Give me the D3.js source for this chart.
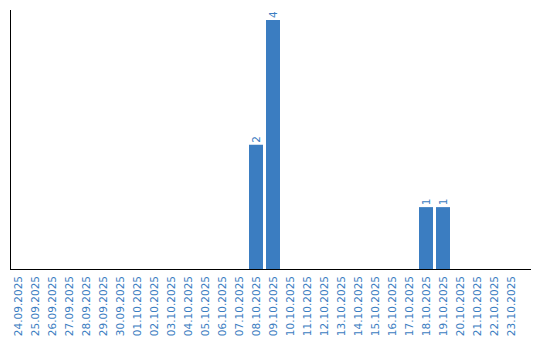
<!DOCTYPE html>
<html>
<head>
<meta charset="utf-8">
<script src="https://cdn.jsdelivr.net/npm/d3@7"></script>
<style>
  html, body { margin: 0; padding: 0; background: #fff; }
  svg { display: block; }
  text { font-family: "DejaVu Sans", Verdana, sans-serif; }
</style>
</head>
<body>
<svg id="chart" width="540" height="340"></svg>
<script>
const dates = ["24.09.2025","25.09.2025","26.09.2025","27.09.2025","28.09.2025","29.09.2025","30.09.2025",
  "01.10.2025","02.10.2025","03.10.2025","04.10.2025","05.10.2025","06.10.2025","07.10.2025","08.10.2025",
  "09.10.2025","10.10.2025","11.10.2025","12.10.2025","13.10.2025","14.10.2025","15.10.2025","16.10.2025",
  "17.10.2025","18.10.2025","19.10.2025","20.10.2025","21.10.2025","22.10.2025","23.10.2025"];
const counts = [0,0,0,0,0,0,0,0,0,0,0,0,0,0,2,4,0,0,0,0,0,0,0,0,1,1,0,0,0,0];

const color = "#3b7dc1";
const svg = d3.select("#chart");

const x = d3.scaleBand().domain(dates).range([9.5, 519.5])
  .paddingInner(3/17).paddingOuter(1.5/17);
const y = d3.scaleLinear().domain([0, 4]).range([269.5, 20]);

const data = dates.map((d, i) => ({ date: d, value: counts[i] }));

svg.append("g").selectAll("rect")
  .data(data.filter(d => d.value > 0))
  .join("rect")
  .attr("x", d => x(d.date))
  .attr("y", d => y(d.value))
  .attr("width", x.bandwidth())
  .attr("height", d => y(0) - y(d.value))
  .attr("fill", color);

svg.append("g").selectAll("text")
  .data(data.filter(d => d.value > 0))
  .join("text")
  .attr("transform", d => `translate(${x(d.date) + x.bandwidth()/2 + 3.5},${y(d.value) - 2}) rotate(-90)`)
  .attr("fill", color)
  .attr("font-size", "10.5px")
  .text(d => d.value);

// axes lines
svg.append("line").attr("x1", 10.5).attr("x2", 10.5).attr("y1", 10).attr("y2", 270)
  .attr("stroke", "#000").attr("stroke-width", 1);
svg.append("line").attr("x1", 10).attr("x2", 531).attr("y1", 269.5).attr("y2", 269.5)
  .attr("stroke", "#000").attr("stroke-width", 1);

// x labels
svg.append("g").selectAll("text")
  .data(dates)
  .join("text")
  .attr("transform", d => `translate(${x(d) + x.bandwidth()/2 + 4},276) rotate(-90)`)
  .attr("text-anchor", "end")
  .attr("fill", color)
  .attr("font-size", "10.5px")
  .text(d => d);
</script>
</body>
</html>
